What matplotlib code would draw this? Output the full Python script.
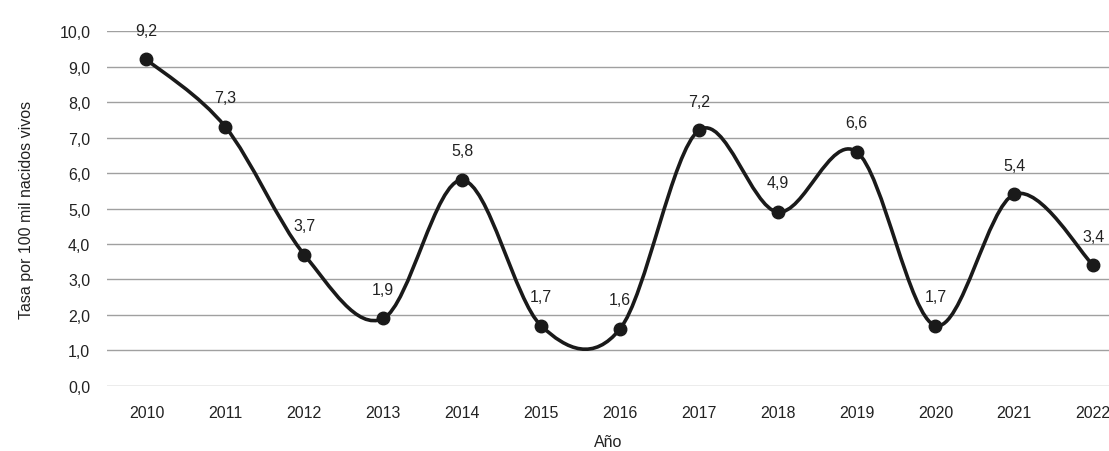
import numpy as np
import matplotlib
matplotlib.use("Agg")
import matplotlib.pyplot as plt
from matplotlib.path import Path
from matplotlib.patches import PathPatch

plt.rcParams['font.family'] = ['Liberation Sans', 'DejaVu Sans']

# Data
years = ['2010', '2011', '2012', '2013', '2014', '2015', '2016',
         '2017', '2018', '2019', '2020', '2021', '2022']
rates = [9.2, 7.3, 3.7, 1.9, 5.8, 1.7, 1.6, 7.2, 4.9, 6.6, 1.7, 5.4, 3.4]
y_ticks = [0, 1, 2, 3, 4, 5, 6, 7, 8, 9, 10]


def fmt(v):
    return f"{v:.1f}".replace('.', ',')


fig = plt.figure(figsize=(11.09, 4.52), dpi=100)
ax = fig.add_axes([0.0965, 0.144, 0.9035, 0.785])

x = np.arange(len(years))
y = np.array(rates)

# smoothed line (Excel-style bezier through the points)
xp = np.concatenate([[x[0]], x, [x[-1]]])
yp = np.concatenate([[y[0]], y, [y[-1]]])
verts = [(x[0], y[0])]
codes = [Path.MOVETO]
for i in range(len(x) - 1):
    j = i + 1
    c1 = (x[i] + (xp[j + 1] - xp[j - 1]) / 6, y[i] + (yp[j + 1] - yp[j - 1]) / 6)
    c2 = (x[i + 1] - (xp[j + 2] - xp[j]) / 6, y[i + 1] - (yp[j + 2] - yp[j]) / 6)
    verts += [c1, c2, (x[i + 1], y[i + 1])]
    codes += [Path.CURVE4] * 3
ax.add_patch(PathPatch(Path(verts, codes), facecolor='none',
                       edgecolor='#1a1a1a', lw=2.6, zorder=3))
ax.plot(x, y, 'o', color='#1a1a1a', ms=9, zorder=4)

for xi, yi in zip(x, y):
    ax.annotate(fmt(yi), (xi, yi), xytext=(0, 21), textcoords='offset points',
                ha='center', va='center', fontsize=11.5, color='#222222')

ax.set_xlim(-0.5, 12.2)
ax.set_ylim(0, 10)
ax.set_yticks(y_ticks)
ax.set_yticklabels([fmt(v) for v in y_ticks], fontsize=11.5, color='#222222')
ax.set_xticks(x)
ax.set_xticklabels(years, fontsize=11.5, color='#222222')
ax.tick_params(axis='x', length=0, pad=14)
ax.tick_params(axis='y', length=0, pad=12)
ax.grid(axis='y', color='#a0a0a0', lw=1)
ax.set_axisbelow(True)
for s in ax.spines.values():
    s.set_visible(False)

ax.set_ylabel('Tasa por 100 mil nacidos vivos', fontsize=11.5, color='#222222', labelpad=18)
ax.set_xlabel('Año', fontsize=11.5, color='#222222', labelpad=10)

fig.savefig('out.png', dpi=100)
